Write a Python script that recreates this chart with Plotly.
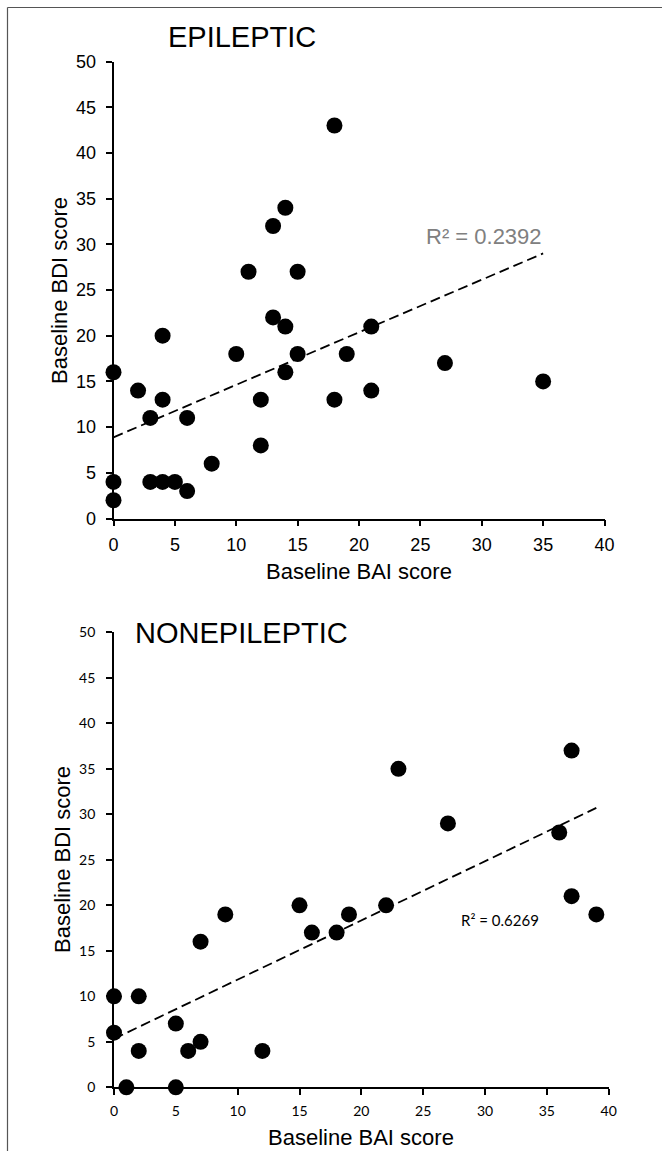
import plotly.graph_objects as go

W, H = 662, 1151

# ---- data: EPILEPTIC (top) ----
epi_bai = [0, 0, 0, 2, 3, 3, 4, 4, 4, 5, 6, 6, 8, 10, 11, 12, 12, 13, 13, 14, 14, 14, 15, 15, 18, 18, 19, 21, 21, 27, 35]
epi_bdi = [16, 4, 2, 14, 11, 4, 20, 13, 4, 4, 11, 3, 6, 18, 27, 13, 8, 22, 32, 34, 21, 16, 27, 18, 43, 13, 18, 21, 14, 17, 15]
epi_trend_x = [0, 35]
epi_trend_y = [8.88, 29.0]
epi_r2 = "R² = 0.2392"

# ---- data: NONEPILEPTIC (bottom) ----
non_bai = [0, 0, 1, 2, 2, 5, 5, 6, 7, 7, 9, 12, 15, 16, 18, 19, 22, 23, 27, 36, 37, 37, 39]
non_bdi = [10, 6, 0, 10, 4, 0, 7, 4, 5, 16, 19, 4, 20, 17, 17, 19, 20, 35, 29, 28, 37, 21, 19]
non_trend_x = [0, 39]
non_trend_y = [5.33, 30.7]
non_r2 = "R² = 0.6269"

x_ticks = [0, 5, 10, 15, 20, 25, 30, 35, 40]
y_ticks = [0, 5, 10, 15, 20, 25, 30, 35, 40, 45, 50]


def px(x):
    return x / W


def py(y):
    return 1 - y / H


fig = go.Figure()

marker = dict(color="black", size=16, line=dict(width=0))
dash = dict(color="black", width=1.8, dash="10px,5px")

fig.add_trace(go.Scatter(x=epi_trend_x, y=epi_trend_y, mode="lines", line=dash,
                         xaxis="x", yaxis="y", hoverinfo="skip", cliponaxis=False))
fig.add_trace(go.Scatter(x=epi_bai, y=epi_bdi, mode="markers", marker=marker,
                         xaxis="x", yaxis="y", cliponaxis=False))
fig.add_trace(go.Scatter(x=non_trend_x, y=non_trend_y, mode="lines", line=dash,
                         xaxis="x2", yaxis="y2", hoverinfo="skip", cliponaxis=False))
fig.add_trace(go.Scatter(x=non_bai, y=non_bdi, mode="markers", marker=marker,
                         xaxis="x2", yaxis="y2", cliponaxis=False))

ax_common = dict(showgrid=False, zeroline=False, showline=True, linecolor="black",
                 linewidth=1.8, ticks="outside", ticklen=6, tickwidth=1.5,
                 tickcolor="black", fixedrange=True, automargin=False)

top_font = dict(family="Liberation Sans, Arial", size=18, color="black")
bot_font = dict(family="Lato, Carlito, Calibri", size=14, color="black")

fig.update_layout(
    template="none",
    width=W, height=H,
    autosize=False,
    margin=dict(l=0, r=0, t=0, b=0, pad=0, autoexpand=False),
    paper_bgcolor="white", plot_bgcolor="white",
    showlegend=False,
    xaxis=dict(domain=[px(113.5), px(604.5)], range=[0, 40], tickvals=x_ticks,
               anchor="y", tickfont=top_font, ticklabelstandoff=3, **ax_common),
    yaxis=dict(domain=[py(518.5), py(61.5)], range=[0, 50], tickvals=y_ticks,
               anchor="x", tickfont=top_font, ticklabelstandoff=6, **ax_common),
    xaxis2=dict(domain=[px(114), px(608.7)], range=[0, 40], tickvals=x_ticks,
                anchor="y2", tickfont=bot_font, ticklabelstandoff=4, **ax_common),
    yaxis2=dict(domain=[py(1087.3), py(632.3)], range=[0, 50], tickvals=y_ticks,
                anchor="x2", tickfont=bot_font, ticklabelstandoff=8, **ax_common),
)

title_font = dict(family="Liberation Sans, Arial", size=29, color="black")
label_font = dict(family="Liberation Sans, Arial", size=22, color="black")

ann = [
    dict(text="EPILEPTIC", x=px(166), y=py(37), xanchor="left", yanchor="middle", font=title_font),
    dict(text="NONEPILEPTIC", x=px(133), y=py(633), xanchor="left", yanchor="middle", font=title_font),
    dict(text="Baseline BAI score", x=px(359), y=py(571), xanchor="center", yanchor="middle", font=label_font),
    dict(text="Baseline BAI score", x=px(361), y=py(1137), xanchor="center", yanchor="middle", font=label_font),
    dict(text="Baseline BDI score", x=px(59), y=py(290), xanchor="center", yanchor="middle",
         textangle=-90, font=label_font),
    dict(text="Baseline BDI score", x=px(63), y=py(860), xanchor="center", yanchor="middle",
         textangle=-90, font=label_font),
    dict(text=epi_r2, x=px(484), y=py(236), xanchor="center", yanchor="middle",
         font=dict(family="Liberation Sans, Arial", size=22, color="#808080")),
    dict(text=non_r2, x=px(500), y=py(920), xanchor="center", yanchor="middle",
         font=dict(family="Lato, Carlito, Calibri", size=15, color="black")),
]
for a in ann:
    a.update(xref="paper", yref="paper", showarrow=False)
fig.update_layout(annotations=ann)

# outer frame (left and top border, continuing off the page)
fig.add_shape(type="line", xref="paper", yref="paper", x0=px(7.5), x1=px(7.5), y0=py(7.5), y1=py(1160),
              line=dict(color="#555555", width=1.2))
fig.add_shape(type="line", xref="paper", yref="paper", x0=px(7.5), x1=px(670), y0=py(7.5), y1=py(7.5),
              line=dict(color="#555555", width=1.2))

fig.write_html(
    "out.html",
    config={"displayModeBar": False},
    post_script="document.body.style.margin='0';document.body.style.padding='0';"
                "document.documentElement.style.overflow='hidden';",
)
